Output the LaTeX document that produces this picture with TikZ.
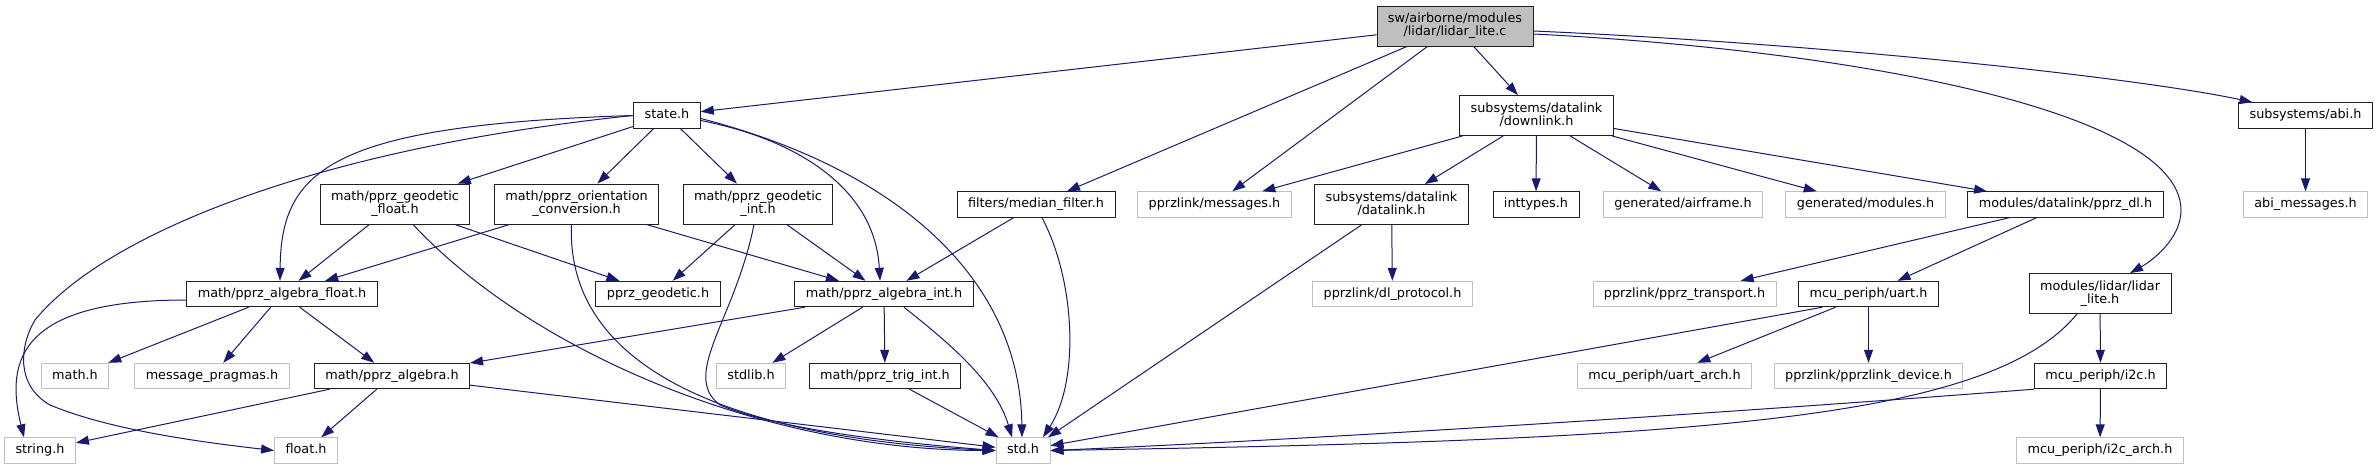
\documentclass[tikz,border=0pt]{standalone}
\usepackage{fontspec}
\setmainfont{DejaVu Sans}
\usepackage{tikz}
\usetikzlibrary{arrows.meta}
\definecolor{nachtblau}{HTML}{191970}
\definecolor{rand}{HTML}{202020}
\definecolor{hgrau}{HTML}{BFBFBF}
\newcommand{\dateifont}{\fontsize{12.8pt}{13.3pt}\selectfont}
\tikzset{
  datei/.style={draw=rand,fill=white,line width=0.9pt,font=\dateifont,align=center,
    inner xsep=11pt,inner ysep=0pt,minimum height=25.5pt,text height=9.5pt,text depth=3pt},
  zweizeilig/.style={minimum height=40pt,text height=22.8pt,text depth=3pt},
  extern/.style={datei,draw=hgrau},
  wurzel/.style={datei,fill=hgrau},
  pfeil/.style={-{Triangle[length=13pt,width=9pt]},draw=nachtblau,line width=1pt},
}

\begin{document}
\begin{tikzpicture}[x=1pt,y=-1pt]
  \fill[white] (0,0) rectangle (2379,469);
  \useasboundingbox (0,0) rectangle (2379,469);
  % Dateien
  \node[wurzel,zweizeilig] (lidarc) at (1455,26) {sw/airborne/modules\\/lidar/lidar\_lite.c};
  \node[datei] (state) at (667,115.5) {state.h};
  \node[datei,zweizeilig] (downlink) at (1536.5,115.5) {subsystems/datalink\\/downlink.h};
  \node[datei] (abi) at (2305.5,115.5) {subsystems/abi.h};
  \node[datei,zweizeilig] (geofl) at (395,204) {math/pprz\_geodetic\\\_float.h};
  \node[datei,zweizeilig] (orient) at (576.5,204) {math/pprz\_orientation\\\_conversion.h};
  \node[datei,zweizeilig] (geoint) at (758,204) {math/pprz\_geodetic\\\_int.h};
  \node[datei] (median) at (1036,204.5) {filters/median\_filter.h};
  \node[extern] (msgs) at (1214.5,204.5) {pprzlink/messages.h};
  \node[datei,zweizeilig] (dlink) at (1391.5,204.5) {subsystems/datalink\\/datalink.h};
  \node[datei] (inttypes) at (1536,204.5) {inttypes.h};
  \node[extern] (airframe) at (1683,204.5) {generated/airframe.h};
  \node[extern] (modules) at (1865.5,204.5) {generated/modules.h};
  \node[datei] (pprzdl) at (2065.5,204.5) {modules/datalink/pprz\_dl.h};
  \node[extern] (abimsg) at (2305.5,204.5) {abi\_messages.h};
  \node[datei] (algfl) at (282,294) {math/pprz\_algebra\_float.h};
  \node[datei] (geodetic) at (658,294) {pprz\_geodetic.h};
  \node[datei] (algint) at (884,294) {math/pprz\_algebra\_int.h};
  \node[extern] (dlproto) at (1392.5,294) {pprzlink/dl\_protocol.h};
  \node[extern] (transport) at (1684.5,294) {pprzlink/pprz\_transport.h};
  \node[datei] (uart) at (1868.5,294) {mcu\_periph/uart.h};
  \node[datei,zweizeilig] (lidarh) at (2100,293.5) {modules/lidar/lidar\\\_lite.h};
  \node[extern] (mathh) at (75,376) {math.h};
  \node[extern] (pragmas) at (212,376) {message\_pragmas.h};
  \node[datei] (alg) at (392,376) {math/pprz\_algebra.h};
  \node[extern] (stdlib) at (751,376) {stdlib.h};
  \node[datei] (trig) at (885,376) {math/pprz\_trig\_int.h};
  \node[extern] (uartarch) at (1664.5,376) {mcu\_periph/uart\_arch.h};
  \node[extern] (device) at (1868.5,376) {pprzlink/pprzlink\_device.h};
  \node[datei] (i2c) at (2100.5,376) {mcu\_periph/i2c.h};
  \node[extern] (stringh) at (40,450.5) {string.h};
  \node[extern] (floath) at (306,450.5) {float.h};
  \node[extern] (stdh) at (1023,450.5) {std.h};
  \node[extern] (i2carch) at (2100,450.5) {mcu\_periph/i2c\_arch.h};
  % gerade Abhaengigkeiten
  \foreach \a/\b in {lidarc/state,lidarc/median,lidarc/msgs,lidarc/downlink,
      state/geofl,state/orient,state/geoint,geofl/algfl,geofl/geodetic,
      orient/algfl,orient/algint,geoint/geodetic,geoint/algint,median/algint,
      downlink/msgs,downlink/dlink,downlink/inttypes,downlink/airframe,
      downlink/modules,downlink/pprzdl,dlink/dlproto,abi/abimsg,
      pprzdl/transport,pprzdl/uart,uart/uartarch,uart/device,lidarh/i2c,
      i2c/i2carch,algfl/mathh,algfl/pragmas,algfl/alg,algint/alg,
      algint/stdlib,algint/trig,alg/stringh,alg/floath,alg/stdh,trig/stdh}
    \draw[pfeil] (\a) -- (\b);
  \draw[pfeil] (dlink) -- ([xshift=25pt]stdh.north);
  \draw[pfeil] ([xshift=-46pt]uart.south) -- (stdh);
  % Boegen
  \draw[pfeil] ([yshift=-5pt]lidarc.east) .. controls (1850,45) and (2150,80) .. ([xshift=-53pt]abi.north);
  \draw[pfeil] ([yshift=-8pt]lidarc.east) .. controls (1850,50) and (2180,110) .. (2181,210)
    .. controls (2181,240) and (2150,262) .. ([xshift=30pt]lidarh.north);
  \draw[pfeil] (state.west) .. controls (330,125) and (281,170) .. ([xshift=-2pt]algfl.north);
  \draw[pfeil] (state.west) .. controls (300,150) and (100,240) .. (35,320)
    .. controls (20,345) and (15,385) .. (50,405) .. controls (110,430) and (200,442) .. (floath.west);
  \draw[pfeil] ([yshift=-6pt]algfl.west) .. controls (20,300) and (5,360) .. ([xshift=-16pt]stringh.north);
  \draw[pfeil] ([yshift=-5pt]state.east) .. controls (800,140) and (875,190) .. ([xshift=-4pt]algint.north);
  \draw[pfeil] ([yshift=-3pt]state.east) .. controls (900,170) and (1020,280) .. ([xshift=-1pt]stdh.north);
  \draw[pfeil] ([xshift=18pt]geofl.south) .. controls (530,350) and (760,450) .. (stdh.west);
  \draw[pfeil] ([xshift=-5pt]orient.south) .. controls (565,380) and (760,440) .. (stdh.west);
  \draw[pfeil] ([xshift=-4pt]geoint.south) .. controls (735,320) and (680,375) .. (720,405)
    .. controls (780,430) and (900,443) .. (stdh.west);
  \draw[pfeil] ([xshift=20pt]algint.south) .. controls (945,340) and (995,380) .. ([xshift=-11pt]stdh.north);
  \draw[pfeil] ([xshift=6pt]median.south) .. controls (1075,280) and (1080,380) .. ([xshift=20pt]stdh.north);
  \draw[pfeil] (i2c.south west) .. controls (1700,415) and (1300,440) .. (stdh.east);
  \draw[pfeil] ([xshift=-23pt]lidarh.south) .. controls (1990,420) and (1700,440) .. (stdh.east);
\end{tikzpicture}
\end{document}
